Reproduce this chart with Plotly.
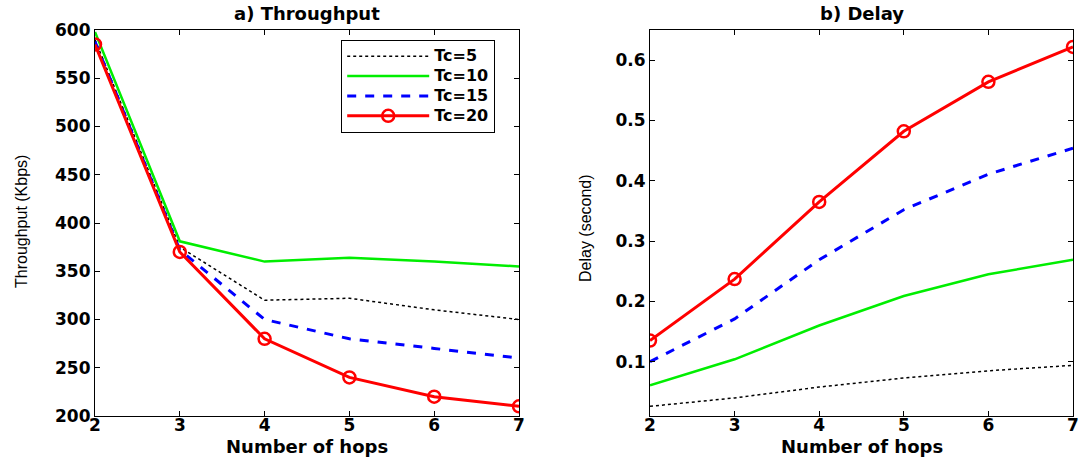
import plotly.graph_objects as go

hops = [2, 3, 4, 5, 6, 7]
series_names = ["Tc=5", "Tc=10", "Tc=15", "Tc=20"]

thr_tc5 = [590, 375, 320, 322, 310, 300]
thr_tc10 = [598, 381, 360, 364, 360, 355]
thr_tc15 = [588, 372, 300, 280, 270, 260]
thr_tc20 = [585, 370, 280, 240, 220, 210]

del_tc5 = [0.026, 0.040, 0.058, 0.073, 0.085, 0.094]
del_tc10 = [0.061, 0.104, 0.160, 0.209, 0.245, 0.269]
del_tc15 = [0.100, 0.171, 0.269, 0.352, 0.411, 0.454]
del_tc20 = [0.135, 0.237, 0.365, 0.482, 0.564, 0.622]

thr_ticks = [200, 250, 300, 350, 400, 450, 500, 550, 600]
del_ticks = [0.1, 0.2, 0.3, 0.4, 0.5, 0.6]

styles = [
    dict(line=dict(color="black", width=1.5, dash="dot"), mode="lines"),
    dict(line=dict(color="#00ee00", width=2.5), mode="lines"),
    dict(line=dict(color="#0000ff", width=3, dash="dash"), mode="lines"),
    dict(line=dict(color="#ff0000", width=3), mode="lines+markers",
         marker=dict(symbol="circle-open", size=12, color="#ff0000", line=dict(width=2.5, color="#ff0000"))),
]

W, H = 1081, 457
fig = go.Figure()

for name, ys, st in zip(series_names, [thr_tc5, thr_tc10, thr_tc15, thr_tc20], styles):
    fig.add_trace(go.Scatter(x=hops, y=ys, name='<span style="font-size:16px">' + name + '</span>',
                             xaxis="x", yaxis="y", showlegend=True, **st))
for name, ys, st in zip(series_names, [del_tc5, del_tc10, del_tc15, del_tc20], styles):
    fig.add_trace(go.Scatter(x=hops, y=ys, name=name, xaxis="x2", yaxis="y2", showlegend=False, **st))

tickfont = dict(family="DejaVu Sans", size=17, color="black", weight="bold")
common = dict(showline=True, linecolor="black", linewidth=1.2, mirror="ticks", ticks="inside",
              ticklen=5, tickcolor="black", showgrid=False, zeroline=False, tickfont=tickfont,
              automargin=False)

ybot = 1 - 416 / H
ytop = 1 - 30 / H
fig.update_layout(
    template="none",
    width=W, height=H,
    margin=dict(l=0, r=0, t=0, b=0),
    paper_bgcolor="white", plot_bgcolor="white",
    xaxis=dict(domain=[95 / W, 519 / W], range=[2, 7], tickvals=hops, anchor="y",
               ticklabelstandoff=-7, **common),
    yaxis=dict(domain=[ybot, ytop], range=[200, 600], tickvals=thr_ticks, anchor="x", **common),
    xaxis2=dict(domain=[650 / W, 1073 / W], range=[2, 7], tickvals=hops, anchor="y2",
                ticklabelstandoff=-7, **common),
    yaxis2=dict(domain=[ybot, ytop], range=[0.01, 0.65], tickvals=del_ticks, anchor="x2", **common),
    legend=dict(x=341 / W, y=1 - 40 / H, xanchor="left", yanchor="top",
                bordercolor="black", borderwidth=1.2, bgcolor="white",
                font=dict(family="DejaVu Sans", size=13, color="black", weight="bold"),
                itemwidth=82, tracegroupgap=0),
    showlegend=True,
)

ann_font = dict(family="DejaVu Sans", size=18, color="black", weight="bold")
lab_font = dict(family="DejaVu Sans", size=18, color="black", weight="bold")
ylab_font = dict(family="Liberation Sans", size=16, color="black")
fig.add_annotation(text="a) Throughput", x=307 / W, y=1 - 14 / H, xref="paper", yref="paper",
                   showarrow=False, font=ann_font, xanchor="center", yanchor="middle")
fig.add_annotation(text="b) Delay", x=862 / W, y=1 - 14 / H, xref="paper", yref="paper",
                   showarrow=False, font=ann_font, xanchor="center", yanchor="middle")
fig.add_annotation(text="Number of hops", x=307 / W, y=1 - 446 / H, xref="paper", yref="paper",
                   showarrow=False, font=lab_font, xanchor="center", yanchor="middle")
fig.add_annotation(text="Number of hops", x=862 / W, y=1 - 446 / H, xref="paper", yref="paper",
                   showarrow=False, font=lab_font, xanchor="center", yanchor="middle")
fig.add_annotation(text="Throughput (Kbps)", x=21 / W, y=1 - 222 / H, xref="paper", yref="paper",
                   showarrow=False, font=ylab_font, textangle=-90, xanchor="center", yanchor="middle")
fig.add_annotation(text="Delay (second)", x=585 / W, y=1 - 228 / H, xref="paper", yref="paper",
                   showarrow=False, font=ylab_font, textangle=-90, xanchor="center", yanchor="middle")

fig.write_html("out.html", config={"displayModeBar": False},
               post_script="document.body.style.margin='0';document.body.style.overflow='hidden';")
